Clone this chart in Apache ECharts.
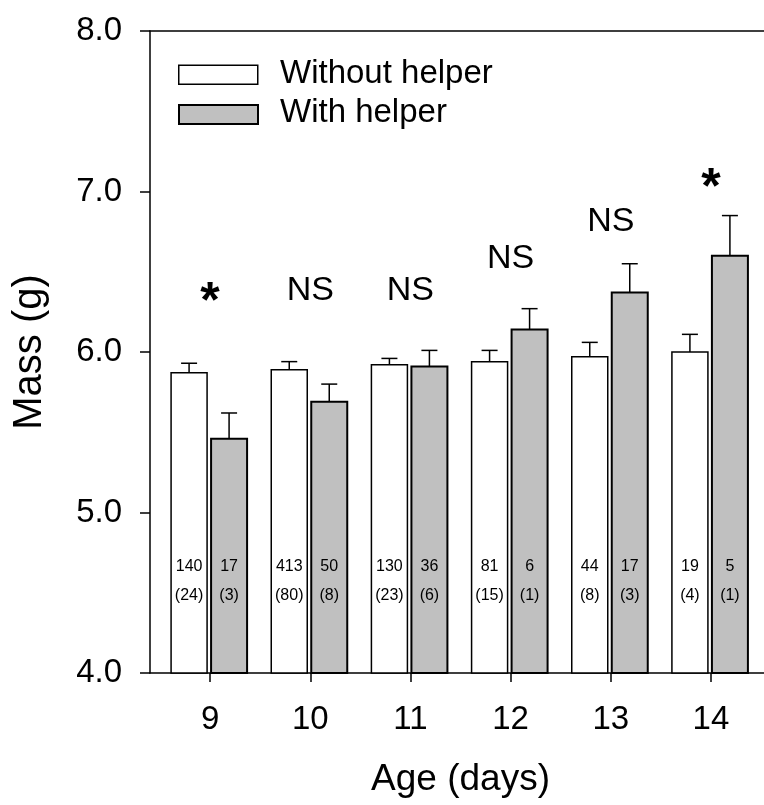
<!DOCTYPE html>
<html>
<head>
<meta charset="utf-8">
<script src="https://cdn.jsdelivr.net/npm/echarts@6/dist/echarts.min.js"></script>
<style>
html,body{margin:0;padding:0;background:#fff;}
#chart{width:764px;height:805px;}
</style>
</head>
<body>
<div id="chart"></div>
<script>
// ---- data ----
const days = ['9', '10', '11', '12', '13', '14'];
const massWithout = [5.87, 5.89, 5.92, 5.94, 5.97, 6.00];
const seWithout   = [0.06, 0.05, 0.04, 0.07, 0.09, 0.11];
const massWith    = [5.46, 5.69, 5.91, 6.14, 6.37, 6.60];
const seWith      = [0.16, 0.11, 0.10, 0.13, 0.18, 0.25];
const nWithout      = [140, 413, 130, 81, 44, 19];
const broodsWithout = [24, 80, 23, 15, 8, 4];
const nWith         = [17, 50, 36, 6, 17, 5];
const broodsWith    = [3, 8, 6, 1, 3, 1];
const sigLabels = ['*', 'NS', 'NS', 'NS', 'NS', '*'];
const sigY      = [6.37, 6.38, 6.38, 6.58, 6.81, 7.08];
const yTicks = [4, 5, 6, 7, 8];

const FONT = 'Liberation Sans, Arial, sans-serif';

function buildData(mean, se, n, b) {
  return mean.map((m, i) => [i, m, se[i], n[i], b[i]]);
}

function barRenderer(offset, fill, lw) {
  return function (params, api) {
    const i = api.value(0), m = api.value(1), se = api.value(2);
    const n = api.value(3), b = api.value(4);
    const top = api.coord([i, m]);
    const base = api.coord([i, yTicks[0]]);
    const err = api.coord([i, m + se]);
    const w = 36;
    const x0 = top[0] + offset;
    const cx = x0 + w / 2;
    return {
      type: 'group',
      children: [
        { type: 'line', shape: { x1: cx, y1: top[1], x2: cx, y2: err[1] }, style: { stroke: '#000', lineWidth: 1.5 } },
        { type: 'line', shape: { x1: cx - 8, y1: err[1], x2: cx + 8, y2: err[1] }, style: { stroke: '#000', lineWidth: 1.5 } },
        { type: 'rect', shape: { x: x0, y: top[1], width: w, height: base[1] - top[1] }, style: { fill: fill, stroke: '#000', lineWidth: lw } },
        { type: 'text', style: { x: cx, y: base[1] - 106, text: String(n), fill: '#000', font: '16px ' + FONT, align: 'center', verticalAlign: 'middle' } },
        { type: 'text', style: { x: cx, y: base[1] - 77, text: '(' + b + ')', fill: '#000', font: '16px ' + FONT, align: 'center', verticalAlign: 'middle' } }
      ]
    };
  };
}

const chart = echarts.init(document.getElementById('chart'), null, { renderer: 'canvas' });

const option = {
  backgroundColor: '#fff',
  animation: false,
  textStyle: { fontFamily: FONT },
  grid: [
    { left: 160, width: 601, top: 31, height: 642 },
    { left: 150, right: 0, top: 31, height: 642 }
  ],
  xAxis: [
    {
      gridIndex: 0, type: 'category', data: days, boundaryGap: true,
      axisLine: { show: false },
      axisTick: { show: true, alignWithLabel: true, length: 9, lineStyle: { color: '#000', width: 1.5 } },
      axisLabel: { fontSize: 33, color: '#000', margin: 30, fontFamily: FONT },
      splitLine: { show: false },
      name: 'Age (days)', nameLocation: 'middle', nameGap: 88,
      nameTextStyle: { fontSize: 37, color: '#000', fontFamily: FONT }
    },
    {
      gridIndex: 1, type: 'value', min: 0, max: 1, position: 'bottom',
      axisLine: { show: true, lineStyle: { color: '#000', width: 1.5 } },
      axisTick: { show: false }, axisLabel: { show: false }, splitLine: { show: false }
    },
    {
      gridIndex: 1, type: 'value', min: 0, max: 1, position: 'top',
      axisLine: { show: true, lineStyle: { color: '#000', width: 1.5 } },
      axisTick: { show: false }, axisLabel: { show: false }, splitLine: { show: false }
    }
  ],
  yAxis: [
    { gridIndex: 0, type: 'value', min: 4, max: 8, show: false },
    {
      gridIndex: 1, type: 'value', min: 4, max: 8, interval: 1,
      axisLine: { show: true, lineStyle: { color: '#000', width: 1.5 } },
      axisTick: { show: true, length: 10, lineStyle: { color: '#000', width: 1.5 } },
      axisLabel: { fontSize: 33, color: '#000', margin: 28, fontFamily: FONT, formatter: v => v.toFixed(1) },
      splitLine: { show: false },
      name: 'Mass (g)', nameLocation: 'middle', nameGap: 100, nameRotate: 90,
      nameTextStyle: { fontSize: 40, color: '#000', fontFamily: FONT }
    }
  ],
  series: [
    {
      name: 'Without helper', type: 'custom', xAxisIndex: 0, yAxisIndex: 0,
      renderItem: barRenderer(-39, '#ffffff', 1.5),
      data: buildData(massWithout, seWithout, nWithout, broodsWithout)
    },
    {
      name: 'With helper', type: 'custom', xAxisIndex: 0, yAxisIndex: 0,
      renderItem: barRenderer(1, '#c0c0c0', 2),
      data: buildData(massWith, seWith, nWith, broodsWith)
    },
    {
      name: 'significance', type: 'custom', xAxisIndex: 0, yAxisIndex: 0,
      renderItem: function (params, api) {
        const p = api.coord([api.value(0), api.value(1)]);
        const lab = sigLabels[params.dataIndex];
        const star = lab === '*';
        return {
          type: 'text',
          style: {
            x: p[0], y: star ? p[1] + 11 : p[1],
            text: lab, fill: '#000',
            font: star ? 'bold 50px ' + FONT : '34px ' + FONT,
            align: 'center', verticalAlign: 'middle'
          }
        };
      },
      data: sigY.map((v, i) => [i, v])
    }
  ],
  graphic: [
    { type: 'rect', left: 178, top: 64.5, shape: { width: 79, height: 19 }, style: { fill: '#fff', stroke: '#000', lineWidth: 1.5 } },
    { type: 'rect', left: 178, top: 104, shape: { width: 79, height: 19 }, style: { fill: '#c0c0c0', stroke: '#000', lineWidth: 2 } },
    { type: 'text', x: 280, y: 74, style: { text: 'Without helper', font: '33px ' + FONT, fill: '#000', verticalAlign: 'middle' } },
    { type: 'text', x: 280, y: 113, style: { text: 'With helper', font: '33px ' + FONT, fill: '#000', verticalAlign: 'middle' } }
  ]
};

chart.setOption(option);
</script>
</body>
</html>
